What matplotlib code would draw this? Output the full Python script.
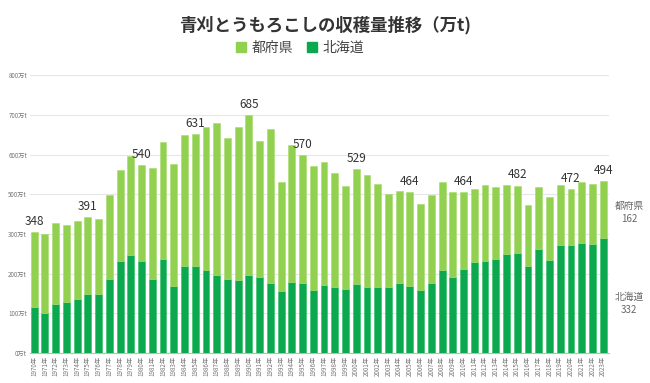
import matplotlib.pyplot as plt
import numpy as np
from matplotlib.patches import Patch

plt.rcParams['font.family'] = ['Noto Sans CJK JP', 'DejaVu Sans']

# data (万t)
years = list(range(1970, 2024))
hokkaido = [134, 115, 142, 147, 157, 171, 171, 214, 266, 283,
            266, 213, 270, 193, 252, 252, 239, 226, 214, 211,
            225, 219, 202, 180, 204, 202, 182, 196, 189, 184,
            200, 191, 190, 190, 202, 193, 182, 202, 239, 219,
            242, 261, 266, 270, 284, 288, 251, 300, 269, 312,
            310, 317, 313, 332]
tofuken = [214, 229, 233, 221, 224, 220, 216, 240, 262, 285,
           274, 321, 338, 352, 377, 379, 411, 437, 406, 439,
           460, 391, 444, 311, 394, 368, 355, 353, 330, 296,
           329, 321, 297, 267, 264, 271, 247, 252, 254, 246,
           222, 211, 217, 209, 199, 194, 174, 179, 180, 173,
           162, 174, 175, 162]
label_years = [1970, 1975, 1980, 1985, 1990, 1995, 2000, 2005, 2010, 2015, 2020, 2023]

c_light = '#92D050'
c_dark = '#0BA84F'

fig = plt.figure(figsize=(6.5, 3.83), dpi=100)
ax = fig.add_axes([0.046, 0.078, 0.891, 0.726])

x = np.arange(len(years))
ax.bar(x, hokkaido, width=0.64, color=c_dark, edgecolor='#2fbf62', linewidth=0.4, zorder=3)
ax.bar(x, tofuken, bottom=hokkaido, width=0.64, color=c_light, edgecolor='#a8dc6e', linewidth=0.4, zorder=3)

totals = np.array(hokkaido) + np.array(tofuken)
for yr in label_years:
    i = years.index(yr)
    ax.annotate(str(totals[i]), (i, totals[i]), xytext=(0, 3), textcoords='offset points',
                ha='center', va='bottom', fontsize=8.5, color='#333333')

ax.set_xlim(-0.4, 53.55)
ax.set_ylim(0, 800)
yt = np.linspace(0, 800, 8)
ax.set_yticks(yt)
ax.set_yticklabels(['%d万t' % (round(v / 100) * 100) for v in yt], fontsize=4.5, color='#777777')
ax.set_xticks(x)
ax.set_xticklabels(['%d年' % y for y in years], rotation=90, fontsize=4.5, color='#777777')
ax.tick_params(axis='both', length=0, pad=2)
ax.grid(axis='y', color='#e6e6e6', linewidth=0.8, zorder=0)
for s in ['top', 'right', 'left']:
    ax.spines[s].set_visible(False)
ax.spines['bottom'].set_color('#bbbbbb')
ax.spines['bottom'].set_linewidth(0.8)

# right side labels for the last year
last = len(years) - 1
ax.text(1.035, hokkaido[last] + tofuken[last] * 0.45, '都府県\n%d' % tofuken[last],
        transform=ax.get_yaxis_transform(), ha='center', va='center', fontsize=7, color='#666666',
        linespacing=1.4)
ax.text(1.035, hokkaido[last] * 0.43, '北海道\n%d' % hokkaido[last],
        transform=ax.get_yaxis_transform(), ha='center', va='center', fontsize=7, color='#666666',
        linespacing=1.4)

fig.text(0.5, 1 - 25 / 383, '青刈とうもろこしの収穫量推移（万t)', ha='center', va='center',
         fontsize=12.5, fontweight='bold', color='#333333')
handles = [Patch(color=c_light, label='都府県'), Patch(color=c_dark, label='北海道')]
fig.legend(handles=handles, loc='center', bbox_to_anchor=(300 / 650, 1 - 48 / 383), ncol=2, frameon=False,
           fontsize=10, handlelength=0.7, handleheight=0.7, handletextpad=0.4, columnspacing=1.0,
           labelcolor='#444444')

fig.savefig('out.png', dpi=100)
